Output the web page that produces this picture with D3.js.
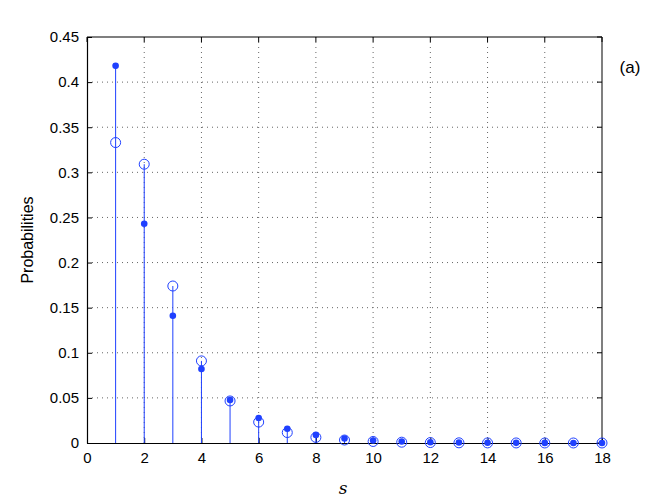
<!DOCTYPE html>
<html><head><meta charset="utf-8">
<script src="https://cdn.jsdelivr.net/npm/d3@7"></script>
<style>body{margin:0;background:#fff}svg{display:block}</style>
</head><body>
<script>
const sValues = [1,2,3,4,5,6,7,8,9,10,11,12,13,14,15,16,17,18];
const filledProb = [0.418,0.243,0.141,0.082,0.0477,0.0277,0.0158,0.0090,0.0050,0.0028,0.0016,0.0009,0.0005,0.0003,0.00016,0.00009,0.00005,0.00003];
const openProb = [0.333,0.309,0.174,0.091,0.0466,0.0232,0.0116,0.0062,0.0033,0.0017,0.0009,0.0005,0.0002,0.0001,0.00006,0.00003,0.00002,0.00001];
const xTicks = [0,2,4,6,8,10,12,14,16,18];
const yTicks = [0,0.05,0.1,0.15,0.2,0.25,0.3,0.35,0.4,0.45];

const W=664,H=499;
const m={l:87,r:62,t:37,b:56};
const svg=d3.select("body").append("svg").attr("width",W).attr("height",H);
const x=d3.scaleLinear().domain([0,18]).range([m.l,W-m.r]);
const y=d3.scaleLinear().domain([0,0.45]).range([H-m.b,m.t]);
const blue="#1f40ff";
const font="'Liberation Sans', Arial, sans-serif";

// grid
const g=svg.append("g");
g.selectAll(".gx").data(xTicks.slice(1,-1)).join("line")
 .attr("x1",d=>x(d)).attr("x2",d=>x(d)).attr("y1",y(0)).attr("y2",y(0.45))
 .attr("stroke","#666").attr("stroke-width",1).attr("stroke-dasharray","1,4");
g.selectAll(".gy").data(yTicks.slice(1,-1)).join("line")
 .attr("y1",d=>y(d)).attr("y2",d=>y(d)).attr("x1",x(0)).attr("x2",x(18))
 .attr("stroke","#666").attr("stroke-width",1).attr("stroke-dasharray","1,4");

// box
svg.append("line").attr("x1",x(0)).attr("x2",x(18)).attr("y1",y(0.45)).attr("y2",y(0.45)).attr("stroke","#555").attr("stroke-width",1.5);
svg.append("line").attr("x1",x(18)).attr("x2",x(18)).attr("y1",y(0)).attr("y2",y(0.45)).attr("stroke","#555").attr("stroke-width",1.5);

// axes
const xa=svg.append("g").attr("transform",`translate(0,${y(0)})`)
 .call(d3.axisBottom(x).tickValues(xTicks).tickSizeInner(-5).tickSizeOuter(0).tickPadding(9).tickFormat(d3.format("d")));
const ya=svg.append("g").attr("transform",`translate(${x(0)},0)`)
 .call(d3.axisLeft(y).tickValues(yTicks).tickSizeInner(-5).tickSizeOuter(0).tickPadding(8).tickFormat(d=>d===0?"0":String(+d.toFixed(2))));
[xa,ya].forEach(a=>{a.selectAll("text").attr("font-family",font).attr("font-size",15).attr("fill","#000");
 a.select(".domain").attr("stroke","#000").attr("stroke-width",1.2);
 a.selectAll(".tick line").attr("stroke","#000");});
// top/right ticks
svg.append("g").selectAll("line").data(xTicks).join("line")
 .attr("x1",d=>x(d)).attr("x2",d=>x(d)).attr("y1",y(0.45)).attr("y2",y(0.45)+5).attr("stroke","#000");
svg.append("g").selectAll("line").data(yTicks).join("line")
 .attr("y1",d=>y(d)).attr("y2",d=>y(d)).attr("x1",x(18)).attr("x2",x(18)-5).attr("stroke","#000");

// stems
const pts=sValues.map((s,i)=>({s,a:filledProb[i],b:openProb[i]}));
svg.append("g").selectAll("line").data(pts).join("line")
 .attr("x1",d=>x(d.s)).attr("x2",d=>x(d.s)).attr("y1",y(0)).attr("y2",d=>y(Math.max(d.a,d.b)))
 .attr("stroke",blue).attr("stroke-width",1);
// open circles
svg.append("g").selectAll("circle").data(pts).join("circle")
 .attr("cx",d=>x(d.s)).attr("cy",d=>y(d.b)).attr("r",5)
 .attr("fill","none").attr("stroke",blue).attr("stroke-width",1);
// filled dots
svg.append("g").selectAll("circle").data(pts).join("circle")
 .attr("cx",d=>x(d.s)).attr("cy",d=>y(d.a)).attr("r",3.3).attr("fill",blue);

// labels
svg.append("text").attr("x",343).attr("y",494).attr("text-anchor","middle")
 .attr("font-family","'DejaVu Serif', 'Liberation Serif', serif").attr("font-style","italic").attr("font-size",17).text("s");
svg.append("text").attr("transform",`translate(33,${(y(0)+y(0.45))/2}) rotate(-90)`).attr("text-anchor","middle")
 .attr("font-family",font).attr("font-size",16).text("Probabilities");
svg.append("text").attr("x",630).attr("y",73).attr("text-anchor","middle")
 .attr("font-family",font).attr("font-size",17).text("(a)");
</script>
</body></html>
